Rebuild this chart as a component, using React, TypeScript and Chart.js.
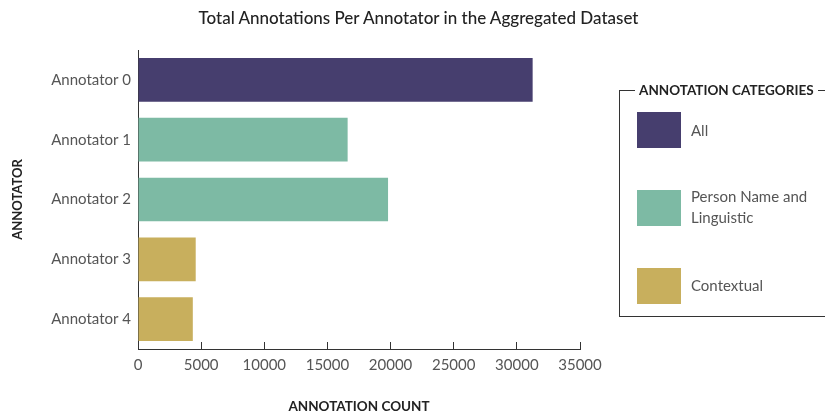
import React, { useEffect, useRef } from "react";
import { Chart, registerables } from "chart.js";

Chart.register(...registerables);

const chartTitle = "Total Annotations Per Annotator in the Aggregated Dataset";
const annotators = ["Annotator 0", "Annotator 1", "Annotator 2", "Annotator 3", "Annotator 4"];
const annotationCounts = [31250, 16600, 19800, 4570, 4340];
const annotatorCategory = [0, 1, 1, 2, 2];
const categoryNames = ["All", "Person Name and\nLinguistic", "Contextual"];
const categoryColors = ["#463E6E", "#7DBAA4", "#C8AF5D"];
const xTicks = [0, 5000, 10000, 15000, 20000, 25000, 30000, 35000];
const xAxisTitle = "ANNOTATION COUNT";
const yAxisTitle = "ANNOTATOR";
const legendTitle = "ANNOTATION CATEGORIES";

const FONT = "Lato, 'Open Sans', sans-serif";

export default function App() {
  const canvasRef = useRef<HTMLCanvasElement | null>(null);

  useEffect(() => {
    if (!canvasRef.current) return;
    const chart = new Chart(canvasRef.current, {
      type: "bar",
      data: {
        labels: annotators,
        datasets: [
          {
            label: "Annotations",
            data: annotationCounts,
            backgroundColor: annotatorCategory.map((c) => categoryColors[c]),
            borderWidth: 0,
            barPercentage: 0.73,
            categoryPercentage: 1,
          },
        ],
      },
      options: {
        indexAxis: "y",
        animation: false,
        responsive: false,
        layout: { padding: { top: 50, right: 245, left: 0, bottom: 0 } },
        plugins: {
          legend: { display: false },
          title: { display: false },
          tooltip: { enabled: false },
        },
        scales: {
          x: {
            min: 0,
            max: 35000,
            afterBuildTicks: (scale: any) => {
              scale.ticks = xTicks.map((v) => ({ value: v }));
            },
            afterFit: (scale: any) => {
              scale.height = 67;
            },
            grid: {
              display: true,
              drawOnChartArea: false,
              drawTicks: true,
              tickLength: -7,
              color: "#333",
              lineWidth: 1,
            },
            border: { display: true, color: "#333", width: 1 },
            ticks: {
              padding: 14,
              color: "#555",
              font: { family: FONT, size: 15 },
              maxRotation: 0,
              autoSkip: false,
              callback: (v: any) => String(v),
            },
            title: {
              display: true,
              text: xAxisTitle,
              color: "#222",
              font: { family: FONT, size: 13.5, weight: "bold" },
              padding: { top: 0, bottom: 1 },
            },
          },
          y: {
            afterFit: (scale: any) => {
              scale.width = 138;
            },
            grid: { display: false, drawTicks: false },
            border: { display: true, color: "#333", width: 1 },
            ticks: {
              padding: 7,
              color: "#555",
              font: { family: FONT, size: 15 },
            },
            title: {
              display: true,
              text: yAxisTitle,
              color: "#222",
              font: { family: FONT, size: 13, weight: "bold" },
              padding: { top: 10, bottom: 0 },
            },
          },
        },
      },
    });
    return () => chart.destroy();
  }, []);

  const swatchTops = [112, 190, 268];
  const textCenters = [130, 207, 285];

  return (
    <div style={{ position: "absolute", left: 0, top: 0, width: 825, height: 416, background: "#fff", overflow: "hidden" }}>
      <canvas ref={canvasRef} width={825} height={416} style={{ position: "absolute", left: 0, top: 0 }} />
      <div
        style={{
          position: "absolute",
          left: 6,
          top: 6,
          width: 825,
          textAlign: "center",
          fontFamily: FONT,
          fontSize: 17,
          fontWeight: 500,
          color: "#222",
          lineHeight: "24px",
        }}
      >
        {chartTitle}
      </div>
      <div
        style={{
          position: "absolute",
          left: 619,
          top: 90,
          width: 220,
          height: 227,
          border: "1px solid #333",
          boxSizing: "border-box",
        }}
      />
      <div
        style={{
          position: "absolute",
          left: 635,
          top: 81,
          padding: "0 4px",
          background: "#fff",
          fontFamily: FONT,
          fontSize: 13.5,
          fontWeight: "bold",
          color: "#222",
          lineHeight: "18px",
          whiteSpace: "nowrap",
        }}
      >
        {legendTitle}
      </div>
      {categoryNames.map((name, i) => (
        <React.Fragment key={name}>
          <div
            style={{
              position: "absolute",
              left: 637,
              top: swatchTops[i],
              width: 44,
              height: 36,
              background: categoryColors[i],
            }}
          />
          <div
            style={{
              position: "absolute",
              left: 691,
              top: textCenters[i] - (name.split("\n").length * 21) / 2,
              fontFamily: FONT,
              fontSize: 15,
              color: "#555",
              lineHeight: "21px",
              whiteSpace: "pre",
            }}
          >
            {name}
          </div>
        </React.Fragment>
      ))}
    </div>
  );
}
